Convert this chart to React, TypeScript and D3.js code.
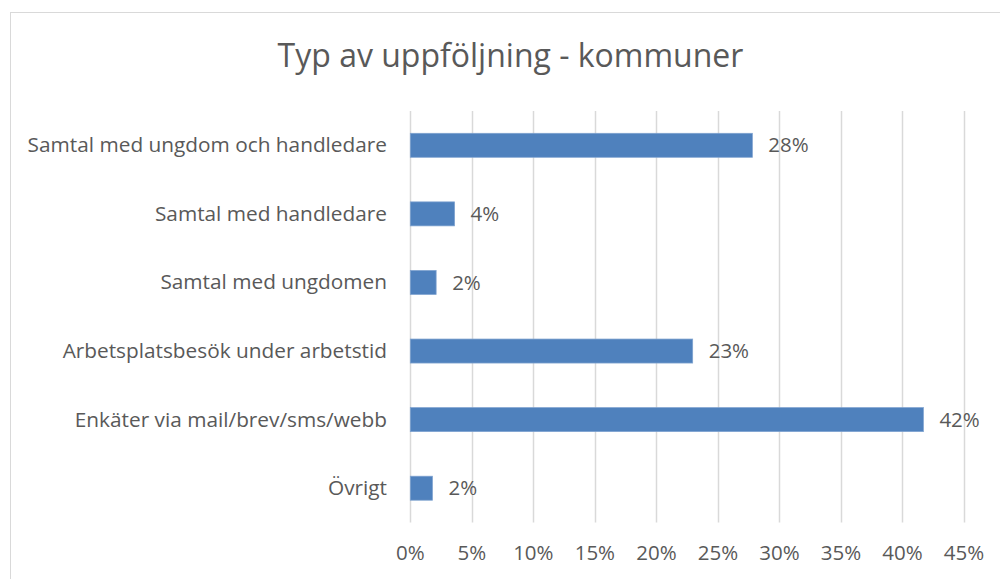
import React from "react";
import * as d3 from "d3";

const title = "Typ av uppföljning - kommuner";
const categories = [
  "Samtal med ungdom och handledare",
  "Samtal med handledare",
  "Samtal med ungdomen",
  "Arbetsplatsbesök under arbetstid",
  "Enkäter via mail/brev/sms/webb",
  "Övrigt",
];
const values = [0.278, 0.036, 0.021, 0.2295, 0.417, 0.018];
const ticks = [0, 0.05, 0.1, 0.15, 0.2, 0.25, 0.3, 0.35, 0.4, 0.45];

const W = 1000;
const H = 579;
const FONT = "'Open Sans', Lato, sans-serif";
const TEXT = "#595959";

export default function App() {
  const x = d3.scaleLinear().domain([0, 0.45]).range([410.3, 964]);
  const y = d3
    .scaleBand<string>()
    .domain(categories)
    .range([111, 522.5])
    .paddingInner(0.65)
    .paddingOuter(0.325);
  const pct = d3.format(".0%");

  return (
    <div style={{ position: "absolute", left: 0, top: 0 }}>
      <svg width={W} height={H} style={{ display: "block", background: "#fff" }}>
        <rect x={10.5} y={12.5} width={1000} height={600} fill="#fff" stroke="#D9D9D9" strokeWidth={1} />
        <text
          x={510.5}
          y={67}
          textAnchor="middle"
          fontFamily={FONT}
          fontSize={32}
          fill={TEXT}
        >
          {title}
        </text>
        {ticks.map((t) => (
          <g key={t}>
            <line
              x1={Math.round(x(t)) + 0.5}
              x2={Math.round(x(t)) + 0.5}
              y1={111}
              y2={522.5}
              stroke="#D9D9D9"
              strokeWidth={1.5}
            />
            <text
              x={x(t)}
              y={560}
              textAnchor="middle"
              fontFamily={FONT}
              fontSize={20.5}
              fill={TEXT}
            >
              {pct(t)}
            </text>
          </g>
        ))}
        {categories.map((c, i) => {
          const yy = y(c)!;
          const bw = y.bandwidth();
          const cy = yy + bw / 2;
          return (
            <g key={c}>
              <rect
                x={x(0)}
                y={yy}
                width={x(values[i]) - x(0)}
                height={bw}
                fill="#4F81BD"
                stroke="#7FA3D0"
                strokeWidth={0.75}
              />
              <text
                x={387}
                y={cy + 7}
                textAnchor="end"
                fontFamily={FONT}
                fontSize={20.8}
                fill={TEXT}
              >
                {c}
              </text>
              <text
                x={x(values[i]) + 16}
                y={cy + 7.2}
                textAnchor="start"
                fontFamily={FONT}
                fontSize={20.5}
                fill={TEXT}
              >
                {pct(values[i])}
              </text>
            </g>
          );
        })}
      </svg>
    </div>
  );
}
